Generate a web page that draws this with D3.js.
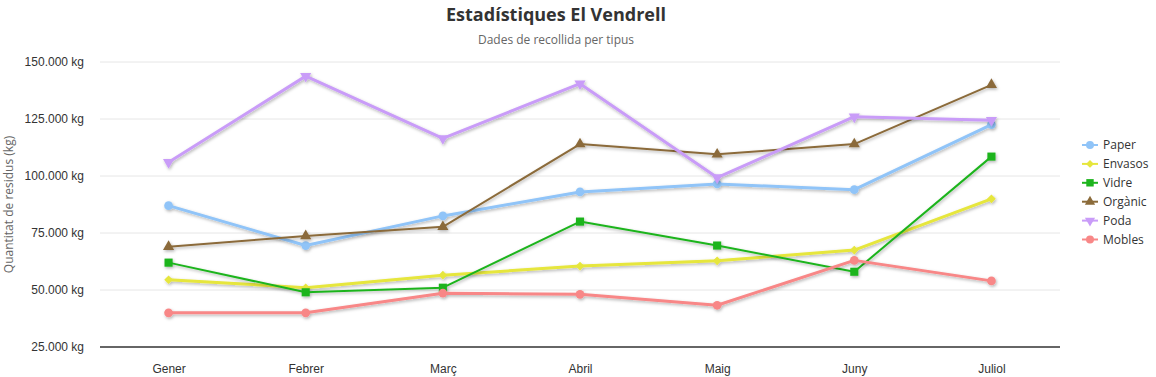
<!DOCTYPE html>
<html lang="ca">
<head>
  <meta charset="UTF-8">
  <title>Estadístiques El Vendrell</title>
  <script src="https://d3js.org/d3.v7.min.js"></script>
  <style>
    body { margin: 0; background: #fff; font-family: "Open Sans", "Noto Sans", Arial, sans-serif; }
    .axis text { font-size: 12px; fill: #333; }
  </style>
</head>
<body>
  <div id="chart"></div>
  <script>
    // dades
    const months = ["Gener", "Febrer", "Març", "Abril", "Maig", "Juny", "Juliol"];
    const seriesNames = ["Paper", "Envasos", "Vidre", "Orgànic", "Poda", "Mobles"];
    const paper   = [87000, 69500, 82500, 93000, 96500, 94000, 122500];
    const envasos = [54500, 51000, 56500, 60500, 62800, 67500, 90000];
    const vidre   = [62000, 49000, 51000, 80000, 69500, 58000, 108500];
    const organic = [69000, 73700, 77700, 114000, 109500, 114000, 140000];
    const poda    = [106000, 143800, 116500, 140500, 99300, 126000, 124500];
    const mobles  = [40000, 40000, 48600, 48100, 43300, 63000, 54000];
    const yTicks  = [25000, 50000, 75000, 100000, 125000, 150000];

    const colors  = ["#90c4f8", "#e6e63c", "#1eb41e", "#8b6b3a", "#c99cf8", "#f88787"];
    const widths  = [3, 3, 2, 2, 3, 3];
    const symbols = ["circle", "diamond", "square", "triangle", "triangle-down", "circle"];
    const values  = [paper, envasos, vidre, organic, poda, mobles];

    const W = 1156, H = 377;
    const m = { top: 62, right: 96, bottom: 30, left: 100 };

    const svg = d3.select("#chart").append("svg")
      .attr("width", W).attr("height", H);

    const defs = svg.append("defs");
    const f = defs.append("filter").attr("id", "shadow")
      .attr("x", "-10%").attr("y", "-10%").attr("width", "120%").attr("height", "130%");
    f.append("feDropShadow").attr("dx", 1).attr("dy", 1.5).attr("stdDeviation", 1.5)
      .attr("flood-color", "#000").attr("flood-opacity", 0.3);

    const x = d3.scalePoint().domain(months)
      .range([m.left, W - m.right]).padding(0.5);
    const y = d3.scaleLinear().domain([25000, 150000])
      .range([H - m.bottom, m.top]);

    const fmt = v => d3.format(",")(v).replace(/,/g, ".") + " kg";

    // títol
    svg.append("text").attr("x", 556).attr("y", 21).attr("text-anchor", "middle")
      .style("font-size", "18px").style("font-weight", "bold").style("fill", "#333")
      .text("Estadístiques El Vendrell");
    svg.append("text").attr("x", 556).attr("y", 44).attr("text-anchor", "middle")
      .style("font-size", "12px").style("fill", "#666")
      .text("Dades de recollida per tipus");

    // graella
    svg.append("g").selectAll("line").data(yTicks.slice(1)).join("line")
      .attr("x1", m.left).attr("x2", W - m.right)
      .attr("y1", d => y(d)).attr("y2", d => y(d))
      .attr("stroke", "#e6e6e6").attr("stroke-width", 1);

    // eix Y
    const yAxis = svg.append("g").attr("class", "axis")
      .attr("transform", `translate(${m.left},0)`)
      .call(d3.axisLeft(y).tickValues(yTicks).tickFormat(fmt).tickSize(0).tickPadding(16));
    yAxis.select(".domain").remove();

    svg.append("text")
      .attr("transform", `translate(13,${(m.top + H - m.bottom) / 2}) rotate(-90)`)
      .attr("text-anchor", "middle")
      .style("font-size", "12px").style("fill", "#666")
      .text("Quantitat de residus (kg)");

    // eix X
    const xAxis = svg.append("g").attr("class", "axis")
      .attr("transform", `translate(0,${H - m.bottom})`)
      .call(d3.axisBottom(x).tickSize(0).tickPadding(17));
    xAxis.select(".domain").remove();
    svg.append("line")
      .attr("x1", m.left).attr("x2", W - m.right)
      .attr("y1", y(25000)).attr("y2", y(25000))
      .attr("stroke", "#333").attr("stroke-width", 1.5);

    function symPath(kind, size) {
      if (kind === "circle") return d3.symbol(d3.symbolCircle, size)();
      if (kind === "diamond") return d3.symbol(d3.symbolDiamond2, size * 0.8)();
      if (kind === "square") return d3.symbol(d3.symbolSquare, size * 1.1)();
      return d3.symbol(d3.symbolTriangle, size * 0.9)();
    }

    const line = d3.line().x((d, i) => x(months[i])).y(d => y(d));

    values.forEach((vals, s) => {
      const g = svg.append("g").attr("filter", "url(#shadow)");
      g.append("path").datum(vals)
        .attr("d", line)
        .attr("fill", "none")
        .attr("stroke", colors[s])
        .attr("stroke-width", widths[s])
        .attr("stroke-linejoin", "round");
      g.selectAll("path.pt").data(vals).join("path")
        .attr("class", "pt")
        .attr("d", symPath(symbols[s], 60))
        .attr("transform", (d, i) => `translate(${x(months[i])},${y(d)})` +
          (symbols[s] === "triangle-down" ? " rotate(180)" : ""))
        .attr("fill", colors[s]);
    });

    // llegenda
    const lg = svg.append("g").attr("transform", "translate(1082,145)");
    seriesNames.forEach((name, s) => {
      const row = lg.append("g").attr("transform", `translate(0,${s * 18.9})`);
      row.append("line").attr("x1", 0).attr("x2", 16)
        .attr("stroke", colors[s]).attr("stroke-width", 2);
      row.append("path").attr("d", symPath(symbols[s], 50))
        .attr("transform", "translate(8,0)" + (symbols[s] === "triangle-down" ? " rotate(180)" : ""))
        .attr("fill", colors[s]);
      row.append("text").attr("x", 21).attr("y", 4)
        .style("font-size", "12px").style("fill", "#333")
        .text(name);
    });
  </script>
</body>
</html>
